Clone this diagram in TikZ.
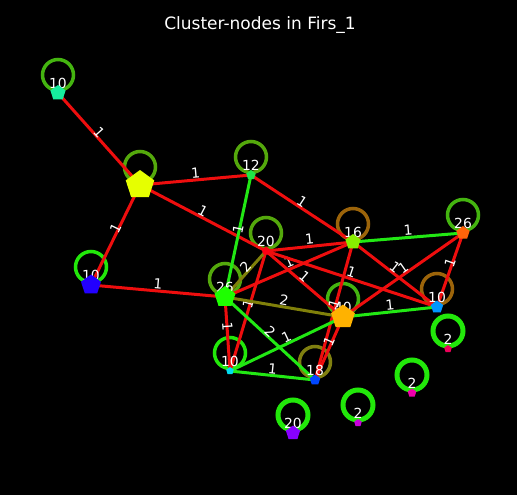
\documentclass[tikz,border=0pt]{standalone}
\usepackage{fontspec}
\setmainfont{DejaVu Sans}
\usetikzlibrary{shapes.geometric}
\pgfdeclarelayer{bg}
\pgfsetlayers{bg,main}

\definecolor{linkred}{RGB}{238,14,14}
\definecolor{linkgreen}{RGB}{34,232,20}
\definecolor{linkolive}{RGB}{128,128,10}
\definecolor{ringmid}{RGB}{68,180,16}
\definecolor{ringdull}{RGB}{84,168,12}
\definecolor{ringlime}{RGB}{34,232,10}
\definecolor{ringbrown}{RGB}{156,100,10}
\definecolor{ringolive}{RGB}{128,128,16}
\definecolor{col1}{RGB}{22,238,158}
\definecolor{col2}{RGB}{230,255,0}
\definecolor{col3}{RGB}{30,230,70}
\definecolor{col4}{RGB}{34,0,255}
\definecolor{col5}{RGB}{30,255,0}
\definecolor{col6}{RGB}{255,0,18}
\definecolor{col7}{RGB}{136,238,0}
\definecolor{col8}{RGB}{255,100,10}
\definecolor{col9}{RGB}{255,178,0}
\definecolor{col10}{RGB}{0,150,255}
\definecolor{col11}{RGB}{0,220,240}
\definecolor{col12}{RGB}{0,70,255}
\definecolor{col13}{RGB}{238,0,90}
\definecolor{col14}{RGB}{238,0,170}
\definecolor{col15}{RGB}{200,0,220}
\definecolor{col16}{RGB}{136,0,255}

\newcommand{\wlink}[4]{%
  \draw[link,#1] (#2.center) -- (#3.center);
  \path ([yshift=7pt]#2.center) -- node[elabel] {#4} ([yshift=7pt]#3.center);}

\begin{document}
\begin{tikzpicture}[x=1pt,y=-1pt,
  vert/.style={regular polygon,regular polygon sides=5,inner sep=0pt},
  ring/.style={line width=3.5pt},
  thickring/.style={line width=5pt,ringlime},
  link/.style={line width=3pt},
  wlabel/.style={text=white,inner sep=0.5pt,font=\fontsize{13.9}{14}\selectfont},
  elabel/.style={wlabel,midway,sloped}]
  \node[vert,fill=col1,minimum size=16pt] (n1) at (58,93) {};
  \node[vert,fill=col2,minimum size=30pt] (n2) at (140,185) {};
  \node[vert,fill=col3,minimum size=10pt] (n3) at (251,175) {};
  \node[vert,fill=col4,minimum size=21pt] (n4) at (91,285) {};
  \node[vert,fill=col5,minimum size=22pt] (n5) at (225,297) {};
  \node[vert,fill=col6,minimum size=9pt] (n6) at (266,251) {};
  \node[vert,fill=col7,minimum size=16pt] (n7) at (353,242) {};
  \node[vert,fill=col8,minimum size=14pt] (n8) at (463,233) {};
  \node[vert,fill=col9,minimum size=25pt] (n9) at (343,317) {};
  \node[vert,fill=col10,minimum size=13pt] (n10) at (437,307) {};
  \node[vert,fill=col11,minimum size=8pt] (n11) at (230,371) {};
  \node[vert,fill=col12,minimum size=11pt] (n12) at (315,380) {};
  \node[vert,fill=col13,minimum size=8pt] (n13) at (448,349) {};
  \node[vert,fill=col14,minimum size=9pt] (n14) at (412,393) {};
  \node[vert,fill=col15,minimum size=8pt] (n15) at (358,423) {};
  \node[vert,fill=col16,minimum size=15pt] (n16) at (293,433) {};
  \node[text=white,font=\fontsize{17}{18}\selectfont] (title) at (260,25) {Cluster-nodes in Firs\_1};

  \begin{pgfonlayer}{bg}
    \fill[black] (0,0) rectangle (517,495);
    \draw[ring,ringmid] ([yshift=18pt]n1.center) circle[radius=15.5pt];
    \draw[ring,ringdull] ([yshift=18pt]n2.center) circle[radius=15.5pt];
    \draw[ring,ringdull] ([yshift=18pt]n3.center) circle[radius=15.5pt];
    \draw[ring,ringlime] ([yshift=18pt]n4.center) circle[radius=15.5pt];
    \draw[ring,ringdull] ([yshift=18pt]n5.center) circle[radius=15.5pt];
    \draw[ring,ringdull] ([yshift=18pt]n6.center) circle[radius=15.5pt];
    \draw[ring,ringbrown] ([yshift=18pt]n7.center) circle[radius=15.5pt];
    \draw[ring,ringmid] ([yshift=18pt]n8.center) circle[radius=15.5pt];
    \draw[ring,ringmid] ([yshift=18pt]n9.center) circle[radius=15.5pt];
    \draw[ring,ringbrown] ([yshift=18pt]n10.center) circle[radius=15.5pt];
    \draw[ring,ringlime] ([yshift=18pt]n11.center) circle[radius=15.5pt];
    \draw[ring,ringolive] ([yshift=18pt]n12.center) circle[radius=15.5pt];
    \draw[thickring] ([yshift=18pt]n13.center) circle[radius=15pt];
    \draw[thickring] ([yshift=18pt]n14.center) circle[radius=15pt];
    \draw[thickring] ([yshift=18pt]n15.center) circle[radius=15pt];
    \draw[thickring] ([yshift=18pt]n16.center) circle[radius=15pt];

    \wlink{linkred}{n1}{n2}{1}
    \wlink{linkred}{n2}{n3}{1}
    \wlink{linkred}{n2}{n4}{1}
    \wlink{linkred}{n2}{n6}{1}
    \wlink{linkred}{n3}{n7}{1}
    \wlink{linkred}{n4}{n5}{1}
    \wlink{linkred}{n5}{n7}{1}
    \wlink{linkred}{n5}{n11}{1}
    \wlink{linkred}{n6}{n7}{1}
    \wlink{linkred}{n6}{n9}{1}
    \wlink{linkred}{n6}{n10}{1}
    \wlink{linkred}{n6}{n11}{1}
    \wlink{linkred}{n7}{n10}{1}
    \wlink{linkred}{n7}{n12}{1}
    \wlink{linkred}{n8}{n9}{1}
    \wlink{linkred}{n8}{n10}{1}
    \wlink{linkred}{n9}{n12}{1}
    \wlink{linkgreen}{n3}{n5}{1}
    \wlink{linkgreen}{n7}{n8}{1}
    \wlink{linkgreen}{n9}{n10}{1}
    \wlink{linkgreen}{n9}{n11}{1}
    \wlink{linkgreen}{n11}{n12}{1}
    \wlink{linkgreen}{n5}{n12}{2}
    \wlink{linkolive}{n5}{n6}{2}
    \wlink{linkolive}{n5}{n9}{2}

    \node[wlabel] (w1) at ([yshift=10pt]n1.center) {10};
    \node[wlabel] (w3) at ([yshift=10pt]n3.center) {12};
    \node[wlabel] (w4) at ([yshift=10pt]n4.center) {10};
    \node[wlabel] (w5) at ([yshift=10pt]n5.center) {26};
    \node[wlabel] (w6) at ([yshift=10pt]n6.center) {20};
    \node[wlabel] (w7) at ([yshift=10pt]n7.center) {16};
    \node[wlabel] (w8) at ([yshift=10pt]n8.center) {26};
    \node[wlabel] (w9) at ([yshift=10pt]n9.center) {40};
    \node[wlabel] (w10) at ([yshift=10pt]n10.center) {10};
    \node[wlabel] (w11) at ([yshift=10pt]n11.center) {10};
    \node[wlabel] (w12) at ([yshift=10pt]n12.center) {18};
    \node[wlabel] (w13) at ([yshift=10pt]n13.center) {2};
    \node[wlabel] (w14) at ([yshift=10pt]n14.center) {2};
    \node[wlabel] (w15) at ([yshift=10pt]n15.center) {2};
    \node[wlabel] (w16) at ([yshift=10pt]n16.center) {20};
  \end{pgfonlayer}
\end{tikzpicture}
\end{document}
